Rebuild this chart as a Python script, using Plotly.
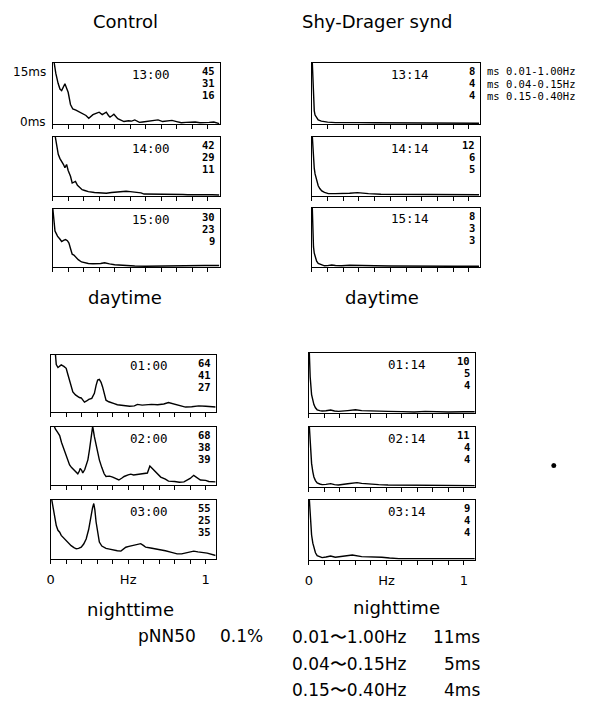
import plotly.graph_objects as go

# ---------------- data ----------------
# Control, daytime
c1300_f = [0.008, 0.02, 0.035, 0.047, 0.058, 0.068, 0.079, 0.09, 0.10, 0.115, 0.13, 0.15, 0.165, 0.18, 0.197,
           0.215, 0.233, 0.25, 0.26, 0.28, 0.30, 0.32, 0.335, 0.346, 0.36, 0.37, 0.385, 0.395, 0.42, 0.44, 0.46,
           0.49, 0.51, 0.53, 0.56, 0.58, 0.61, 0.64, 0.66, 0.68, 0.71, 0.74, 0.77, 0.80, 0.83, 0.86, 0.89, 0.92,
           0.95, 0.98, 1.01, 1.04, 1.075]
c1300_v = [15.5, 12.5, 10.0, 8.6, 8.2, 9.0, 9.9, 8.8, 7.8, 4.8, 3.7, 3.4, 3.1, 2.7, 2.5,
           2.1, 1.4, 1.9, 2.3, 2.6, 2.9, 2.3, 2.6, 2.9, 2.1, 1.7, 2.1, 2.4, 1.3, 1.0, 0.6,
           0.8, 0.7, 1.0, 0.4, 0.5, 0.6, 0.7, 0.8, 1.0, 0.6, 0.7, 0.9, 0.6, 0.3, 0.4, 0.4, 0.5,
           0.3, 0.3, 0.4, 0.5, 0.1]

c1400_f = [0.015, 0.025, 0.036, 0.047, 0.058, 0.07, 0.079, 0.09, 0.10, 0.115, 0.126, 0.137, 0.147, 0.16,
           0.175, 0.19, 0.207, 0.23, 0.27, 0.31, 0.346, 0.38, 0.40, 0.44, 0.474, 0.50, 0.54, 0.57, 0.59,
           0.63, 0.68, 0.72, 0.76, 0.80, 0.84, 0.87, 0.92, 0.98, 1.03, 1.075]
c1400_v = [15.5, 12.5, 10.6, 9.5, 8.9, 8.0, 7.2, 8.0, 6.5, 5.0, 3.3, 3.6, 3.7, 2.7,
           2.0, 1.6, 1.4, 1.1, 0.9, 0.8, 0.7, 0.9, 1.0, 1.1, 1.2, 1.1, 0.95, 0.8, 0.5,
           0.5, 0.4, 0.5, 0.45, 0.35, 0.4, 0.3, 0.35, 0.25, 0.3, 0.25]

c1500_f = [0.0, 0.008, 0.015, 0.025, 0.032, 0.045, 0.058, 0.07, 0.083, 0.095, 0.105, 0.115, 0.126, 0.137,
           0.147, 0.165, 0.186, 0.21, 0.23, 0.26, 0.29, 0.31, 0.335, 0.35, 0.367, 0.40, 0.44, 0.48, 0.53,
           0.60, 0.66, 0.74, 0.83, 0.90, 0.98, 1.075]
c1500_v = [15.5, 11.5, 9.3, 8.5, 7.9, 7.3, 6.6, 6.9, 7.1, 6.8, 6.2, 4.8, 3.3, 3.1,
           2.6, 1.9, 1.3, 1.0, 0.9, 0.85, 0.8, 0.9, 1.1, 0.9, 0.8, 0.6, 0.44, 0.35, 0.26,
           0.2, 0.25, 0.25, 0.3, 0.35, 0.4, 0.4]

# Shy-Drager, daytime
s1314_f = [0.002, 0.006, 0.01, 0.015, 0.02, 0.03, 0.04, 0.06, 0.08, 0.10, 0.15, 0.20, 0.30, 0.40, 0.50,
           0.60, 0.70, 0.80, 0.90, 1.0, 1.065]
s1314_v = [15.5, 12.0, 6.0, 3.2, 2.2, 1.5, 1.0, 0.7, 0.55, 0.45, 0.35, 0.3, 0.35, 0.3, 0.3,
           0.25, 0.3, 0.25, 0.25, 0.2, 0.2]

s1414_f = [0.002, 0.006, 0.01, 0.015, 0.02, 0.03, 0.04, 0.05, 0.063, 0.08, 0.105, 0.15, 0.19, 0.24,
           0.29, 0.33, 0.36, 0.44, 0.55, 0.65, 0.75, 0.85, 0.95, 1.065]
s1414_v = [15.5, 12.0, 9.1, 7.0, 5.6, 3.8, 2.6, 1.9, 1.3, 0.9, 0.6, 0.6, 0.6, 0.7,
           0.87, 0.7, 0.6, 0.45, 0.4, 0.4, 0.35, 0.35, 0.3, 0.3]

s1514_f = [0.002, 0.005, 0.01, 0.015, 0.02, 0.03, 0.04, 0.06, 0.08, 0.10, 0.126, 0.15, 0.19, 0.24,
           0.29, 0.33, 0.40, 0.50, 0.60, 0.70, 0.80, 0.90, 1.065]
s1514_v = [15.5, 10.0, 5.1, 3.5, 2.6, 1.5, 0.9, 0.5, 0.3, 0.35, 0.5, 0.4, 0.3, 0.45,
           0.35, 0.45, 0.3, 0.25, 0.2, 0.2, 0.2, 0.2, 0.2]

# Control, nighttime
c0100_f = [0.03, 0.036, 0.047, 0.058, 0.068, 0.085, 0.10, 0.11, 0.122, 0.133, 0.143, 0.16, 0.175, 0.185,
           0.197, 0.207, 0.218, 0.232, 0.246, 0.265, 0.282, 0.293, 0.303, 0.314, 0.325, 0.335, 0.346,
           0.357, 0.375, 0.39, 0.41, 0.43, 0.47, 0.51, 0.54, 0.56, 0.59, 0.61, 0.65, 0.69, 0.73, 0.76,
           0.79, 0.82, 0.87, 0.91, 0.955, 1.0, 1.03, 1.065]
c0100_v = [15.5, 12.5, 11.7, 12.0, 12.4, 12.0, 11.5, 10.0, 8.4, 6.5, 5.3, 4.5, 4.0, 3.8,
           3.7, 3.2, 2.6, 2.9, 3.3, 3.6, 4.9, 7.0, 8.4, 8.6, 7.8, 6.6, 4.5,
           3.1, 2.7, 2.4, 2.2, 1.9, 1.7, 1.5, 1.6, 2.0, 1.8, 1.9, 2.0, 1.9, 2.1, 2.5,
           2.2, 1.9, 1.3, 1.4, 1.6, 1.5, 1.4, 1.3]

c0200_f = [0.02, 0.03, 0.045, 0.058, 0.07, 0.09, 0.105, 0.122, 0.135, 0.154, 0.165, 0.175, 0.185, 0.19,
           0.20, 0.207, 0.22, 0.24, 0.25, 0.26, 0.271, 0.282, 0.293, 0.303, 0.314, 0.33, 0.345, 0.357,
           0.38, 0.40, 0.42, 0.44, 0.46, 0.474, 0.50, 0.517, 0.535, 0.55, 0.57, 0.59, 0.61, 0.624, 0.64,
           0.655, 0.667, 0.69, 0.71, 0.74, 0.76, 0.80, 0.83, 0.86, 0.88, 0.90, 0.923, 0.94, 0.966, 1.0,
           1.02, 1.065]
c0200_v = [15.5, 14.5, 13.6, 12.8, 11.0, 8.75, 7.0, 5.2, 4.5, 3.8, 3.5, 2.9, 3.6, 4.3,
           3.8, 3.1, 4.0, 6.5, 9.0, 11.9, 15.2, 12.5, 10.1, 8.0, 6.5, 4.5, 2.9, 2.2,
           2.3, 2.05, 1.6, 1.3, 1.8, 2.2, 2.6, 2.8, 2.6, 2.7, 2.9, 2.9, 3.0, 3.1, 4.9,
           4.3, 3.8, 3.0, 2.05, 1.5, 1.0, 0.9, 0.7, 0.8, 1.2, 1.7, 2.5, 2.1, 1.3, 1.2,
           0.9, 0.8]

c0300_f = [0.005, 0.015, 0.026, 0.036, 0.047, 0.058, 0.068, 0.085, 0.10, 0.115, 0.132, 0.15, 0.165, 0.18,
           0.197, 0.213, 0.229, 0.245, 0.26, 0.27, 0.278, 0.285, 0.293, 0.303, 0.314, 0.33, 0.357, 0.38,
           0.40, 0.43, 0.453, 0.47, 0.485, 0.505, 0.528, 0.555, 0.581, 0.60, 0.613, 0.645, 0.677, 0.71,
           0.74, 0.78, 0.816, 0.845, 0.87, 0.90, 0.923, 0.95, 0.976, 1.01, 1.065]
c0300_v = [15.5, 13.0, 10.3, 8.5, 7.3, 6.8, 6.0, 5.3, 4.7, 4.0, 3.4, 2.9, 2.6, 2.7,
           3.0, 3.8, 5.1, 7.5, 11.1, 13.0, 14.1, 12.5, 9.4, 6.5, 4.3, 3.3, 2.7, 2.5,
           2.3, 2.1, 2.0, 2.5, 3.0, 3.2, 3.4, 3.5, 3.9, 3.4, 3.0, 2.8, 2.6, 2.3,
           2.1, 1.7, 1.3, 1.3, 1.5, 1.8, 2.0, 1.8, 1.7, 1.5, 0.9]

# Shy-Drager, nighttime
s0114_f = [0.002, 0.008, 0.017, 0.025, 0.032, 0.042, 0.053, 0.07, 0.085, 0.11, 0.14, 0.165, 0.19, 0.25,
           0.30, 0.34, 0.385, 0.45, 0.51, 0.60, 0.68, 0.75, 0.82, 0.90, 1.0, 1.07]
s0114_v = [15.5, 9.0, 4.6, 3.0, 2.1, 1.3, 0.8, 0.6, 0.5, 0.55, 0.75, 0.5, 0.4, 0.6,
           0.8, 0.6, 0.5, 0.45, 0.4, 0.35, 0.25, 0.4, 0.3, 0.25, 0.3, 0.3]

s0214_f = [0.002, 0.008, 0.017, 0.025, 0.032, 0.042, 0.053, 0.07, 0.085, 0.11, 0.14, 0.165, 0.19, 0.25,
           0.31, 0.34, 0.385, 0.45, 0.51, 0.60, 0.72, 0.85, 0.95, 1.07]
s0214_v = [15.5, 10.0, 5.9, 3.8, 2.5, 1.6, 1.0, 0.75, 0.6, 0.65, 0.85, 0.6, 0.5, 0.8,
           1.1, 0.9, 0.7, 0.6, 0.5, 0.45, 0.4, 0.45, 0.35, 0.35]

s0314_f = [0.002, 0.008, 0.017, 0.025, 0.032, 0.042, 0.053, 0.07, 0.085, 0.11, 0.14, 0.17, 0.20, 0.24,
           0.28, 0.34, 0.40, 0.47, 0.52, 0.58, 0.68, 0.80, 0.92, 1.07]
s0314_v = [15.5, 11.0, 6.25, 4.2, 2.9, 1.8, 1.1, 0.8, 0.6, 0.75, 1.0, 0.7, 0.8, 1.0,
           1.25, 0.85, 0.8, 0.7, 0.5, 0.35, 0.35, 0.4, 0.35, 0.35]

# panel texts
time_labels = ["13:00", "14:00", "15:00", "13:14", "14:14", "15:14",
               "01:00", "02:00", "03:00", "01:14", "02:14", "03:14"]
panel_values = [["45", "31", "16"], ["42", "29", "11"], ["30", "23", "9"],
                ["8", "4", "4"], ["12", "6", "5"], ["8", "3", "3"],
                ["64", "41", "27"], ["68", "38", "39"], ["55", "25", "35"],
                ["10", "5", "4"], ["11", "4", "4"], ["9", "4", "4"]]
band_labels = ["ms 0.01-1.00Hz", "ms 0.04-0.15Hz", "ms 0.15-0.40Hz"]
summary_bands = ["0.01〜1.00Hz", "0.04〜0.15Hz", "0.15〜0.40Hz"]
summary_values = ["11ms", "5ms", "4ms"]
pnn50_label = ["pNN50", "0.1%"]
tick_vals = [0.0, 0.1, 0.2, 0.3, 0.4, 0.5, 0.6, 0.7, 0.8, 0.9, 1.0]
tick_text_bottom = ["0", "", "", "", "", "Hz", "", "", "", "", "1"]

series = [(c1300_f, c1300_v), (c1400_f, c1400_v), (c1500_f, c1500_v),
          (s1314_f, s1314_v), (s1414_f, s1414_v), (s1514_f, s1514_v),
          (c0100_f, c0100_v), (c0200_f, c0200_v), (c0300_f, c0300_v),
          (s0114_f, s0114_v), (s0214_f, s0214_v), (s0314_f, s0314_v)]

# ---------------- layout geometry (pixels) ----------------
W, H = 597, 701


def px(x):
    return x / W


def py(y):
    return 1 - y / H


# left, right, top, bottom, x-axis max
geom = [(49, 217, 63, 124, 1.077), (49, 217, 137, 196, 1.077), (49, 217, 209, 267, 1.077),
        (310, 479, 63, 124, 1.07), (310, 479, 137, 196, 1.07), (310, 479, 208, 267, 1.07),
        (47, 213, 355, 412, 1.064), (47, 213, 427, 485, 1.064), (47, 213, 500, 559, 1.064),
        (307, 474, 353, 413, 1.07), (307, 474, 427, 487, 1.07), (307, 474, 500, 560, 1.07)]
bottom_panels = {8, 11}

TXT = "DejaVu Sans"
MONO = "DejaVu Sans Mono"

fig = go.Figure()
layout = dict(width=W, height=H, margin=dict(l=0, r=0, t=0, b=0),
              paper_bgcolor="white", plot_bgcolor="white", showlegend=False)
annotations = []

for i, ((f, v), (l, r, t, b, xmax)) in enumerate(zip(series, geom)):
    n = i + 1
    xa = "x" if n == 1 else f"x{n}"
    ya = "y" if n == 1 else f"y{n}"
    fig.add_trace(go.Scatter(x=f, y=v, xaxis=xa, yaxis=ya, mode="lines",
                             line=dict(color="black", width=1.4), hoverinfo="skip"))
    xkey = "xaxis" if n == 1 else f"xaxis{n}"
    ykey = "yaxis" if n == 1 else f"yaxis{n}"
    layout[xkey] = dict(domain=[px(l), px(r)], range=[0, xmax], anchor=ya,
                        showline=True, mirror=True, linecolor="black", linewidth=1.3,
                        showgrid=False, zeroline=False, ticks="outside", ticklen=4,
                        tickwidth=1.2, tickcolor="black", tickvals=tick_vals,
                        ticktext=tick_text_bottom if i in bottom_panels else [""] * len(tick_vals),
                        tickfont=dict(family=TXT, size=13, color="black"),
                        ticklabelstandoff=4, fixedrange=True)
    layout[ykey] = dict(domain=[py(b), py(t)], range=[0, 15], anchor=xa,
                        showline=True, mirror=True, linecolor="black", linewidth=1.3,
                        showgrid=False, zeroline=False, showticklabels=False, ticks="",
                        fixedrange=True)
    # time label
    annotations.append(dict(text=time_labels[i], x=px(l + 99), y=py(t + 11), xref="paper", yref="paper",
                            xanchor="center", yanchor="middle", showarrow=False,
                            font=dict(family=MONO, size=12.5, color="black")))
    # numbers
    for k, val in enumerate(panel_values[i]):
        annotations.append(dict(text=f"<b>{val}</b>", x=px(r - 3), y=py(t + 8 + 12 * k),
                                xref="paper", yref="paper", xanchor="right", yanchor="middle",
                                showarrow=False, font=dict(family=MONO, size=10.5, color="black")))

# y-axis labels of first panel
annotations.append(dict(text="15ms", x=px(44), y=py(72), xref="paper", yref="paper",
                        xanchor="right", yanchor="middle", showarrow=False,
                        font=dict(family=TXT, size=12, color="black")))
annotations.append(dict(text="0ms", x=px(44), y=py(122), xref="paper", yref="paper",
                        xanchor="right", yanchor="middle", showarrow=False,
                        font=dict(family=TXT, size=12, color="black")))

# band legend
for k, lab in enumerate(band_labels):
    annotations.append(dict(text=lab, x=px(484), y=py(71 + 12.5 * k), xref="paper", yref="paper",
                            xanchor="left", yanchor="middle", showarrow=False,
                            font=dict(family=MONO, size=10.5, color="black")))

# column titles and section labels
big = dict(family=TXT, size=18, color="black")
for text, x, y in [("Control", 122, 21), ("Shy-Drager synd", 376, 22),
                   ("daytime", 122, 297), ("daytime", 381, 297),
                   ("nighttime", 127, 609), ("nighttime", 395, 607)]:
    annotations.append(dict(text=text, x=px(x), y=py(y), xref="paper", yref="paper",
                            xanchor="center", yanchor="middle", showarrow=False, font=big))

mid = dict(family=TXT, size=17, color="black")
annotations.append(dict(text=pnn50_label[0], x=px(133), y=py(636), xref="paper", yref="paper",
                        xanchor="left", yanchor="middle", showarrow=False, font=mid))
annotations.append(dict(text=pnn50_label[1], x=px(263), y=py(636), xref="paper", yref="paper",
                        xanchor="right", yanchor="middle", showarrow=False, font=mid))
for k, (band, val) in enumerate(zip(summary_bands, summary_values)):
    yy = 637 + 26.5 * k
    annotations.append(dict(text=band, x=px(288), y=py(yy), xref="paper", yref="paper",
                            xanchor="left", yanchor="middle", showarrow=False, font=mid))
    annotations.append(dict(text=val, x=px(481), y=py(yy), xref="paper", yref="paper",
                            xanchor="right", yanchor="middle", showarrow=False, font=mid))

layout["annotations"] = annotations
layout["shapes"] = [dict(type="circle", xref="paper", yref="paper",
                         x0=px(551), x1=px(556), y0=py(468), y1=py(463),
                         fillcolor="black", line=dict(color="black", width=0))]
fig.update_layout(**layout)
fig.write_html("out.html", config={"displayModeBar": False},
               post_script="document.body.style.margin='0';document.body.style.padding='0';"
                           "document.documentElement.style.overflow='hidden';")
